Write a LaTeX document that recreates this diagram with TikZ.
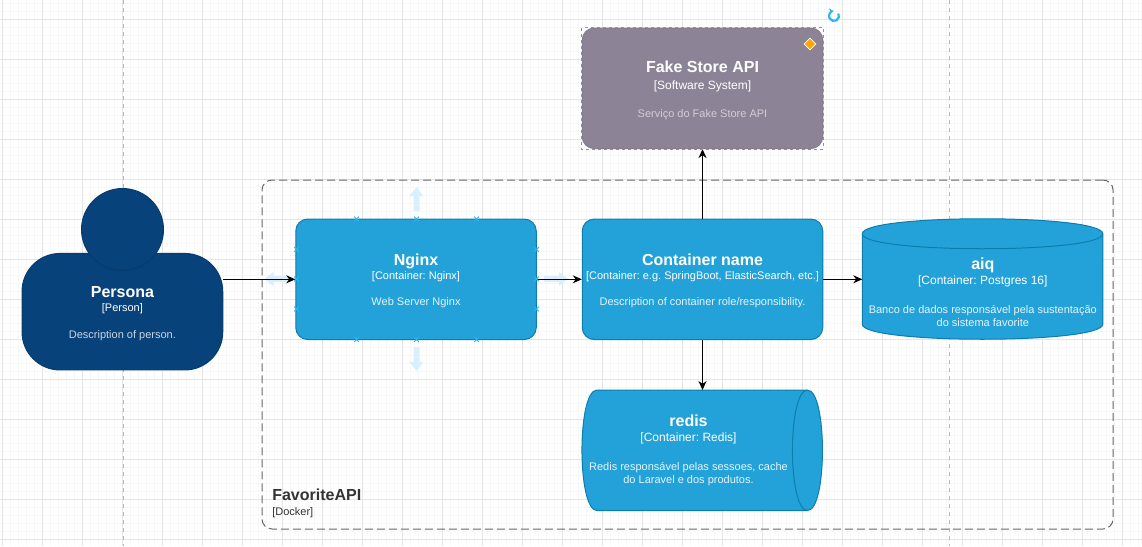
\documentclass[tikz,border=0pt]{standalone}
\usepackage{xcolor}
\usepackage{fontspec}
\setmainfont{Liberation Sans}
\usetikzlibrary{positioning, shapes.geometric, shapes.misc, arrows.meta}
\definecolor{containerblue}{HTML}{23A2D9}
\definecolor{containerline}{HTML}{0E7DAD}
\definecolor{personblue}{HTML}{08427B}
\definecolor{personline}{HTML}{073B6F}
\definecolor{externalgray}{HTML}{8C8496}
\definecolor{externalline}{HTML}{857C8F}
\definecolor{handleblue}{HTML}{29B6F2}
\definecolor{foldblue}{HTML}{D9F0FC}
\definecolor{markerorange}{HTML}{FFA500}
\newcommand{\nameFont}{\frenchspacing\fontsize{16}{13}\bfseries\selectfont\rule{0pt}{15pt}}
\newcommand{\typeFont}{\frenchspacing\fontsize{11}{13}\mdseries\selectfont}
\newcommand{\wideTypeFont}{\frenchspacing\fontsize{12}{13}\mdseries\selectfont}
\newcommand{\descFont}{\frenchspacing\fontsize{11}{14}\mdseries\selectfont\color{white!88!containerblue}}

\begin{document}
\begin{tikzpicture}[x=1pt, y=-1pt, node distance=45pt, semithick,
          >={Stealth[length=9pt,width=8pt]},
          box/.style={rectangle, rounded corners=12pt, draw, line width=1pt, inner sep=0pt,
            minimum width=240.5pt, minimum height=120.5pt, align=center, text=white},
          container/.style={box, fill=containerblue, draw=containerline},
          external/.style={box, fill=externalgray, draw=externalline},
          personbody/.style={box, rounded corners=38pt, fill=personblue, draw=personline,
            minimum width=200.7pt, minimum height=116.5pt},
          personhead/.style={circle, fill=personblue, draw=personline, line width=1pt,
            inner sep=0pt, minimum size=82pt},
          boxtext/.style={align=center, text=white, inner sep=0pt},
          slot/.style={rectangle, inner sep=0pt, minimum width=240.5pt, minimum height=120.5pt},
          drumfill/.style={fill=containerblue, draw=containerline, line width=1pt},
          boundary/.style={rectangle, rounded corners=10pt, draw=black!60, line width=1pt,
            dash pattern=on 8pt off 4pt, minimum width=851pt, minimum height=349pt},
          link/.style={->, line width=1pt, black},
          gridmajor/.style={black!10, line width=.8pt},
          gridminor/.style={black!3, line width=.6pt},
          guide/.style={black!28, line width=.8pt, dash pattern=on 4pt off 4pt},
          handle/.style={cross out, draw=handleblue, line width=.8pt, inner sep=0pt, minimum size=4pt},
          selectbox/.style={handleblue, line width=.8pt, dash pattern=on 3pt off 3pt}]
        \useasboundingbox (0,0) rectangle (1142,546);
        \fill[white] (0,0) rectangle (1142,546);
        \foreach \x in {2,10,...,1142} \draw[gridminor] (\x,0) -- (\x,546);
        \foreach \y in {3,11,...,546} \draw[gridminor] (0,\y) -- (1142,\y);
        \foreach \x in {2,42,...,1142} \draw[gridmajor] (\x,0) -- (\x,546);
        \foreach \y in {19,59,...,546} \draw[gridmajor] (0,\y) -- (1142,\y);
        \draw[guide] (123,0) -- (123,546);
        \draw[guide] (949,0) -- (949,546);

        \node[boundary] (favorite_api) at (687.5,354.5) {};
        \node[boxtext, text=black!80, anchor=south west, align=left] (favorite_label)
          at ([shift={(10.5,-11)}]favorite_api.south west)
          {\nameFont FavoriteAPI\\[3pt]\typeFont [Docker]};

        \foreach \fx/\fy/\fr in {416.5/199/90, 416.5/359/-90, 276.5/279/180, 556/279/0}
          \fill[foldblue, shift={(\fx,\fy)}, rotate=\fr] (-12,-3) -- (3,-3) -- (3,-7) -- (12,0) -- (3,7) -- (3,3) -- (-12,3) -- cycle;

        \node[container] (container_app) at (702.5,279.3)
          {\nameFont Container name\\[2pt]\typeFont [Container: e.g. SpringBoot, ElasticSearch, etc.]\\[14pt]\descFont Description of container role/responsibility.};
        \node[container, left=of container_app] (nginx)
          {\nameFont Nginx\\[2pt]\typeFont [Container: Nginx]\\[14pt]\descFont Web Server Nginx};
        \node[external, above=69.5pt of container_app] (fake_store)
          {\nameFont Fake Store API\\[5pt]\wideTypeFont [Software System]\\[16pt]\descFont\color{white!60!externalgray} Serviço do Fake Store API};

        \node[slot, right=39pt of container_app] (aiq) {};
        \begin{scope}[shift={(aiq.north west)}]
          \filldraw[drumfill] (0,15) .. controls (0,-5) and (240.5,-5) .. (240.5,15) -- (240.5,105.5)
            .. controls (240.5,125.5) and (0,125.5) .. (0,105.5) -- cycle;
          \draw[drumfill, fill=none] (0,15) .. controls (0,35) and (240.5,35) .. (240.5,15);
        \end{scope}
        \node[boxtext] (aiq_text) at ([shift={(0,11)}]aiq.center)
          {\nameFont aiq\\[1.5pt]\wideTypeFont [Container: Postgres 16]\\[17pt]\descFont Banco de dados responsável pela sustentação\\[1pt]\descFont do sistema favorite};

        \node[slot, below=50pt of container_app] (redis) {};
        \begin{scope}[shift={(redis.north west)}]
          \filldraw[drumfill] (15,0) .. controls (-5,0) and (-5,120.5) .. (15,120.5) -- (225.5,120.5)
            .. controls (245.5,120.5) and (245.5,0) .. (225.5,0) -- cycle;
          \draw[drumfill, fill=none] (225.5,0) .. controls (205.5,0) and (205.5,120.5) .. (225.5,120.5);
        \end{scope}
        \node[boxtext] (redis_text) at ([shift={(-14,-2)}]redis.center)
          {\nameFont redis\\[3pt]\wideTypeFont [Container: Redis]\\[17pt]\descFont Redis responsável pelas sessoes, cache\\[1pt]\descFont do Laravel e dos produtos.};

        \node[personbody] (persona_body) at (122.4,311.7)
          {\nameFont Persona\\[2pt]\typeFont [Person]\\[15pt]\descFont\color{white!78!personblue} Description of person.};
        \node[personhead] (persona_head) at (122.5,229.5) {};
        \coordinate (persona_out) at (persona_body.east |- nginx.west);

        \path[link] (persona_out) edge (nginx.west);
        \path[link] (nginx.east) edge (container_app.west);
        \path[link] (container_app.east) edge (aiq.west);
        \path[link] (container_app.north) edge (fake_store.south);
        \path[link] (container_app.south) edge (redis.north);

        \foreach \x/\n in {356.5/a,416.5/b,476.5/c} {
          \node[handle] (handle_top_\n) at (\x,219) {};
          \node[handle] (handle_bottom_\n) at (\x,339.5) {};
        }
        \foreach \y/\n in {249.5/a,279/b,309/c} {
          \node[handle] (handle_left_\n) at (296.5,\y) {};
          \node[handle] (handle_right_\n) at (536.5,\y) {};
        }

        \draw[selectbox] (fake_store.north west) rectangle (fake_store.south east);
        \node[diamond, fill=markerorange, draw=white, line width=.8pt, inner sep=0pt, minimum size=12pt] (fake_marker) at (810,44) {};
        \draw[handleblue, line width=2.2pt, -{Stealth[length=4.5pt,width=6pt]}] (834,16) ++(-30:5) arc[start angle=-30, end angle=265, radius=5];
      \end{tikzpicture}
\end{document}
